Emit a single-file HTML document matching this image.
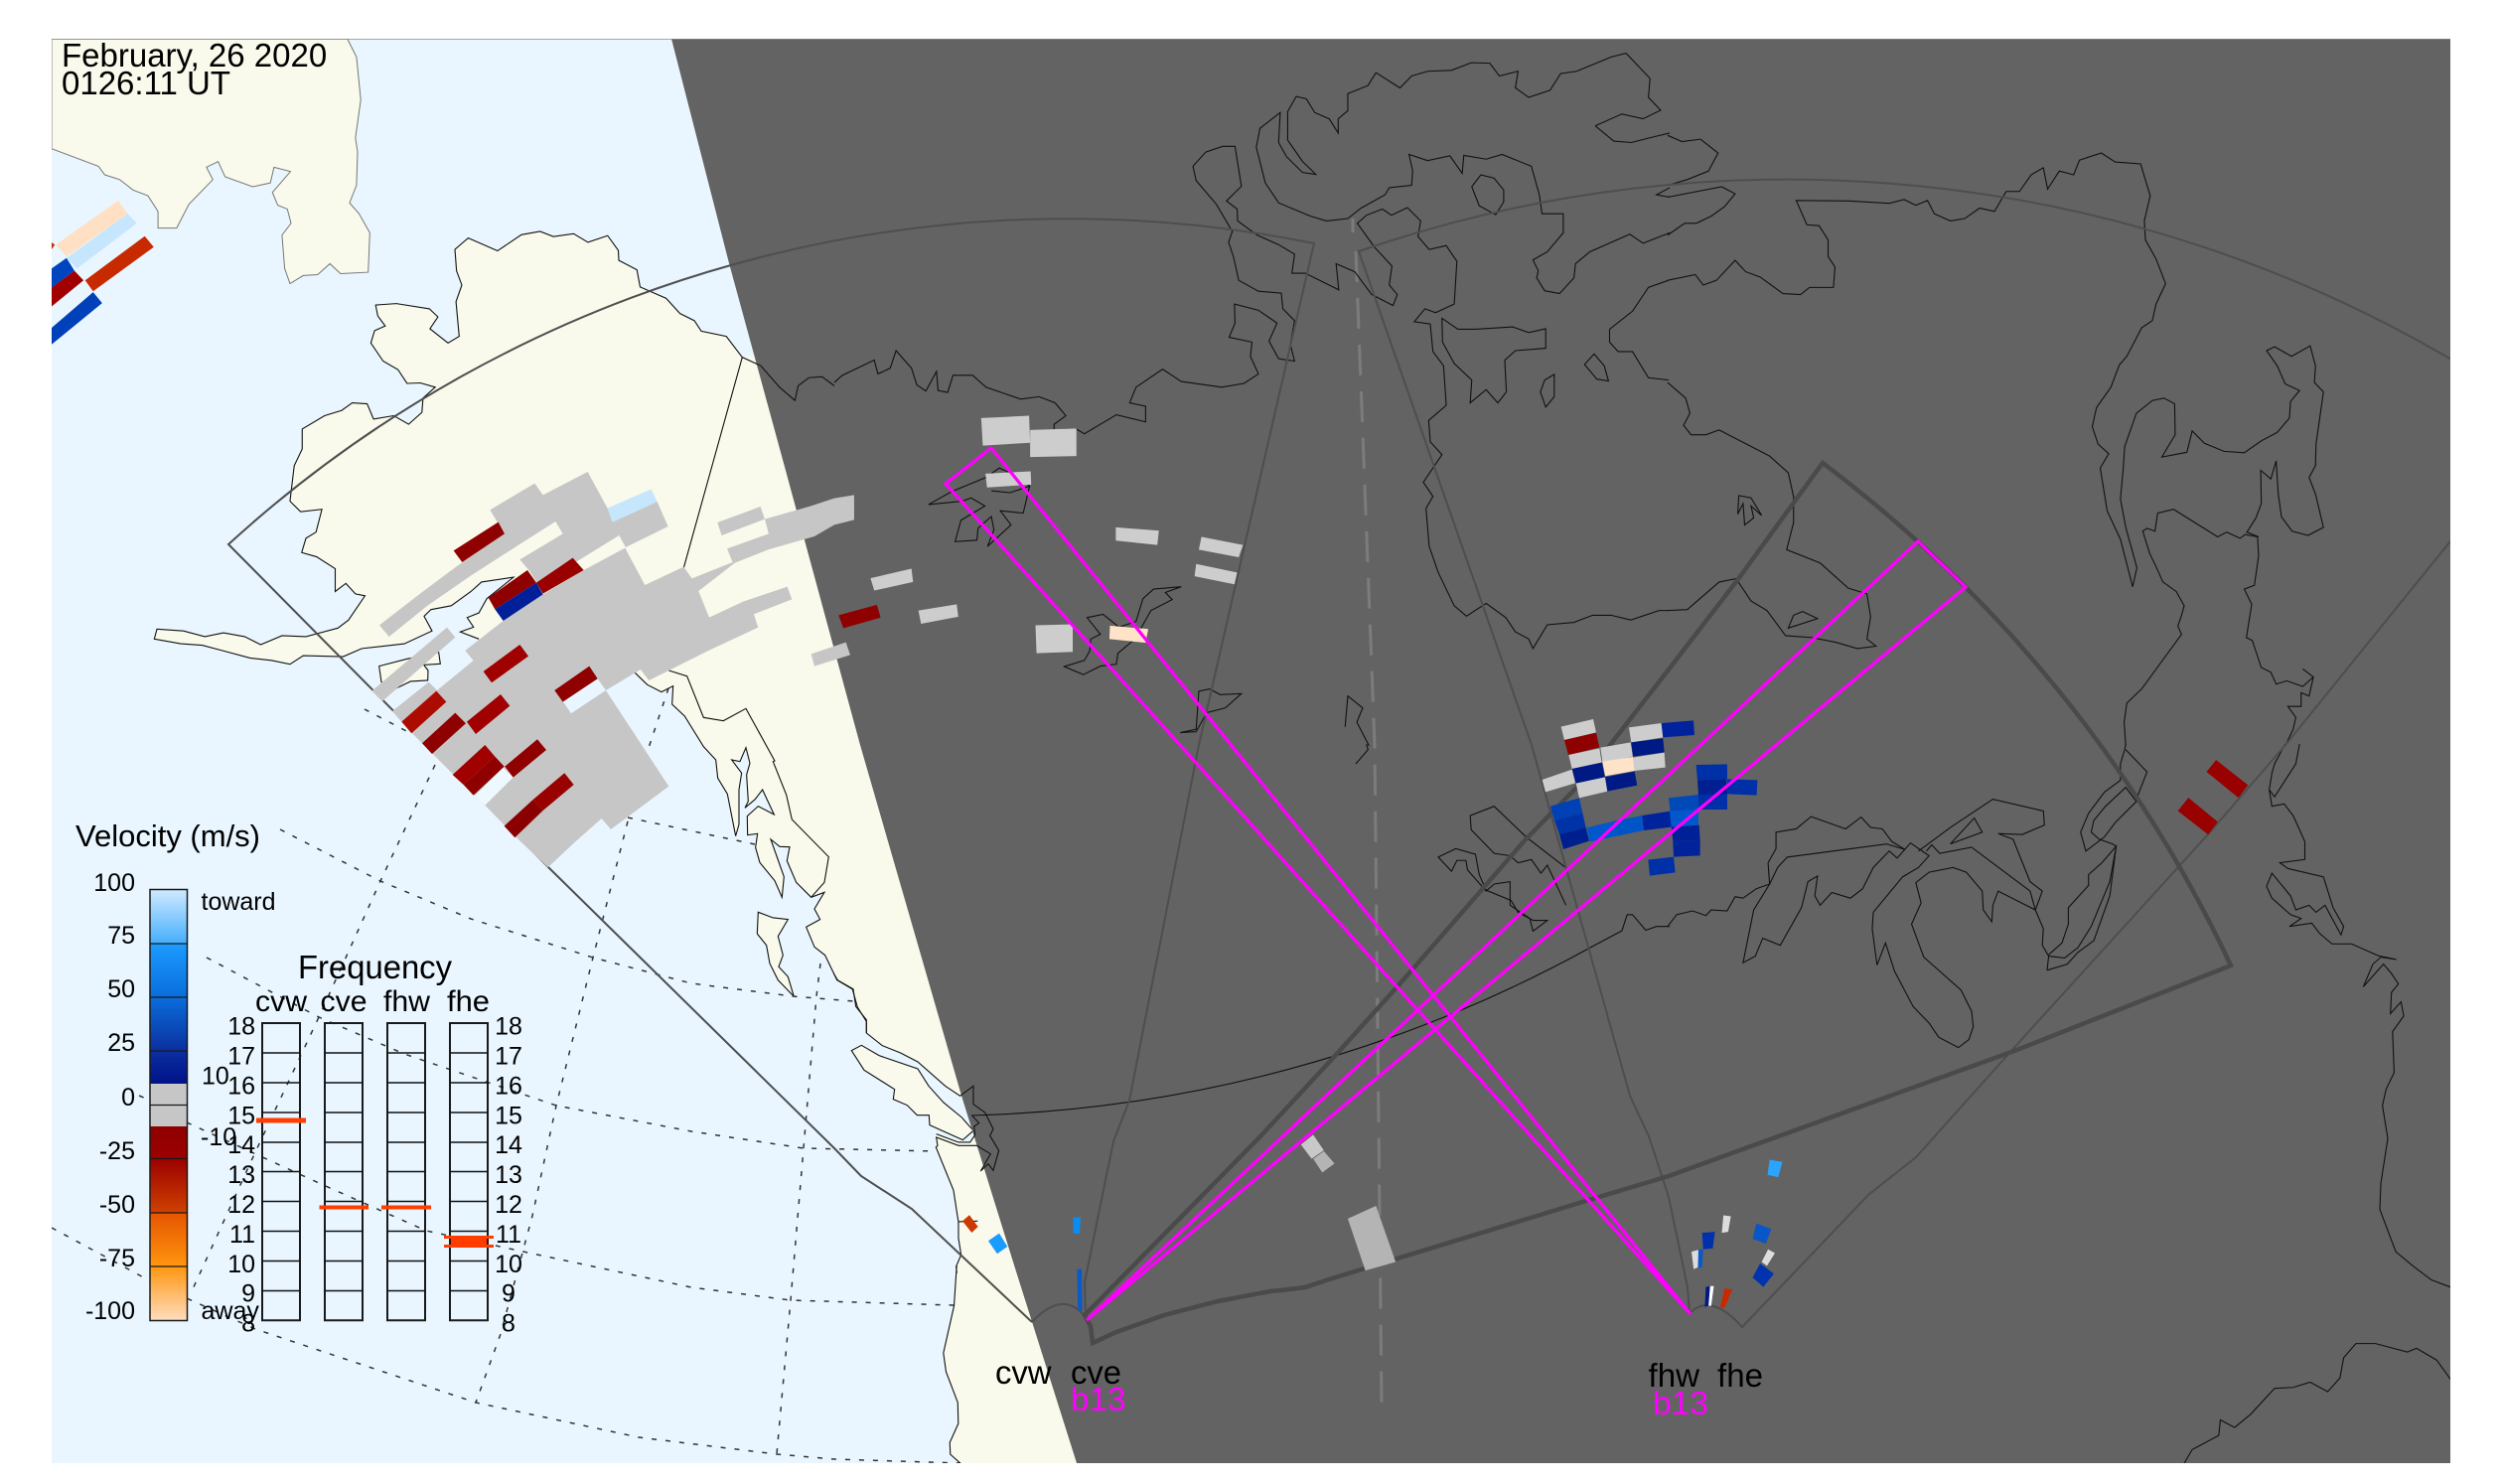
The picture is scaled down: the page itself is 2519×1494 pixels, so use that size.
<!DOCTYPE html>
<html><head><meta charset="utf-8"><title>SuperDARN velocity map</title>
<style>
html,body{margin:0;padding:0;background:#fff}
svg{display:block;font-family:"Liberation Sans",sans-serif}
svg *{vector-effect:non-scaling-stroke}
.c{fill:none;stroke:#111;stroke-width:1.1;stroke-linejoin:miter}
.l{fill:#f9faeb;stroke:none}
.ls{fill:#f9faeb;stroke:#111;stroke-width:1.1}
.g{fill:none;stroke:#333;stroke-width:1.5;stroke-dasharray:5 9}
.f{fill:none;stroke:#4e4e4e;stroke-width:2;stroke-linejoin:miter}
.n{fill:#c6c6c6}.m{fill:#cdcdcd}
.row{stroke:#111;stroke-width:1.5}
.box{fill:none;stroke:#1a1a1a;stroke-width:2}
</style></head>
<body>
<svg width="2519" height="1494" viewBox="0 0 2519 1494" xmlns="http://www.w3.org/2000/svg">
<defs>
<clipPath id="plot"><rect x="52" y="39" width="2415" height="1434"/></clipPath>
<linearGradient id="cb" x1="0" y1="0" x2="0" y2="1">
<stop offset="0" stop-color="#cfeaff"/><stop offset=".125" stop-color="#46aefc"/><stop offset=".126" stop-color="#1c9bff"/>
<stop offset=".25" stop-color="#0a6edc"/><stop offset=".375" stop-color="#0b2f9e"/><stop offset=".45" stop-color="#001288"/>
<stop offset=".45" stop-color="#c6c6c6"/><stop offset=".55" stop-color="#c6c6c6"/><stop offset=".55" stop-color="#8f0000"/>
<stop offset=".625" stop-color="#9c0000"/><stop offset=".75" stop-color="#cf4200"/><stop offset=".751" stop-color="#e65500"/>
<stop offset=".875" stop-color="#ff9610"/><stop offset="1" stop-color="#ffddbf"/>
</linearGradient>
</defs>
<rect width="2519" height="1494" fill="#fff"/>
<g clip-path="url(#plot)">
<rect x="52" y="39" width="2415" height="1434" fill="#e9f6ff"/>

<!-- land fills -->
<g transform="scale(.5357 .4783)">
<polygon points="97,313 185,350 197,368 225,378 250,400 278,412 297,445 297,480 332,480 355,430 400,378 388,352 410,340 423,372 475,393 508,385 515,352 546,361 512,405 522,432 540,440 547,470 530,495 535,565 545,597 570,580 597,578 620,555 640,576 692,573 695,490 675,450 657,427 670,390 672,320 668,290 678,210 670,120 653,82 97,82" fill="#f9faeb" stroke="#777" stroke-width="1"/>
<polygon class="l" points="1395,752 1365,708 1318,697 1305,675 1278,660 1252,628 1203,604 1197,568 1163,548 1162,527 1142,496 1105,510 1078,492 1040,498 1015,487 980,494 935,528 880,501 855,525 858,570 868,600 857,635 863,708 842,722 808,692 823,667 807,650 745,639 706,642 710,665 724,686 704,696 697,722 720,760 748,778 765,807 790,806 818,815 795,838 793,868 768,893 740,875 702,882 690,850 662,848 642,864 610,875 568,903 568,945 553,980 545,1055 565,1077 605,1072 594,1120 575,1133 567,1163 595,1172 630,1197 630,1245 650,1228 668,1250 686,1254 655,1305 635,1322 575,1340 530,1338 490,1357 460,1340 420,1332 385,1340 345,1328 295,1324 290,1345 340,1355 380,1358 420,1370 470,1385 510,1390 545,1398 570,1380 645,1382 680,1365 760,1355 812,1328 797,1297 810,1283 848,1275 885,1245 905,1225 965,1215 915,1260 900,1290 878,1300 890,1320 865,1330 900,1345 933,1352 1045,1394 1193,1415 1210,1432 1250,1455 1262,1445 1265,1480 1290,1510 1320,1568 1800,1568 1800,700"/>
</g>
<g transform="translate(620 640) scale(.3333)">
<polygon class="l" points="100,0 58,112 95,148 138,170 173,152 170,207 208,243 265,335 302,375 308,430 337,478 362,605 372,570 372,465 380,415 350,375 375,380 393,338 405,385 395,420 400,500 390,520 420,495 443,465 478,540 430,515 397,545 398,602 428,598 422,640 435,685 480,740 502,790 508,728 468,615 495,637 525,638 517,680 545,745 590,790 630,775 600,825 617,857 575,880 600,940 632,965 668,1040 715,1068 730,1122 757,1165 757,1200 1300,1200 1300,0"/>
<polygon class="ls" points="430,835 475,852 520,857 490,908 505,965 492,1000 520,1030 538,1090 490,1040 465,990 455,935 427,900"/>
</g>
<g transform="translate(780 980) scale(.3333)">
<polygon class="l" points="178,0 190,20 237,47 245,100 277,140 277,180 325,218 380,240 432,267 515,340 560,370 595,420 617,452 602,462 605,488 590,510 555,510 488,485 492,520 487,525 540,655 552,733 555,750 555,800 563,850 548,885 550,905 1000,905 1000,0"/>
<polygon class="ls" points="232,233 262,217 315,248 432,288 465,340 510,390 565,435 600,475 568,503 468,458 466,428 430,428 400,398 358,380 362,350 270,292"/>
</g>
<g transform="translate(840 750) scale(.5357 .4745)">
<polygon class="l" points="230,1105 225,1190 205,1290 210,1330 232,1395 233,1440 217,1480 218,1505 237,1524 800,1524 800,1105"/>
</g>

<!-- graticule -->
<polyline class="g" points="282,835 383,887 474,925 597,964 696,990 798,1003 860,1008"/>
<polyline class="g" points="208,964 321,1024 407,1061 560,1113 696,1139 809,1156 943,1159"/>
<polyline class="g" points="188,1130 321,1191 429,1239 536,1262 696,1296 796,1309 960,1314"/>
<polyline class="g" points="140,1103 147,1106"/>
<polyline class="g" points="52,1236 150,1289 179,1303 257,1338 479,1412 643,1447 782,1464 840,1469 967,1473"/>
<polyline class="g" points="438,770 383,887 321,1024 257,1160 193,1300"/>
<polyline class="g" points="673,693 653,753 633,823 597,964 560,1113 536,1224 504,1343 479,1412"/>
<polyline class="g" points="826,970 822,1003 809,1156 796,1309 782,1464"/>
<polyline class="g" points="367,714 413,738"/>
<polyline class="g" points="632,823 760,850"/>

<!-- night -->
<polygon fill="#636363" points="676,39 734,265 790,470 866,750 968,1103 1023,1280 1084,1473 2467,1473 2467,39"/>
<polyline fill="none" stroke="#7c7c7c" stroke-width="3" points="1362,220 1362,234"/>
<polyline fill="none" stroke="#7c7c7c" stroke-width="3" stroke-dasharray="31 16" points="1365,253 1384,750 1391,1414"/>

<!-- coast -->
<g transform="scale(.5357 .4783)">
<polyline class="c" points="1568,812 1545,793 1520,795 1500,812 1494,843 1465,815 1430,770 1395,752 1365,708 1318,697 1305,675 1278,660 1252,628 1203,604 1197,568 1163,548 1162,527 1142,496 1105,510 1078,492 1040,498 1015,487 980,494 935,528 880,501 855,525 858,570 868,600 857,635 863,708 842,722 808,692 823,667 807,650 745,639 706,642 710,665 724,686 704,696 697,722 720,760 748,778 765,807 790,806 818,815 795,838 793,868 768,893 740,875 702,882 690,850 662,848 642,864 610,875 568,903 568,945 553,980 545,1055 565,1077 605,1072 594,1120 575,1133 567,1163 595,1172 630,1197 630,1245 650,1228 668,1250 686,1254 655,1305 635,1322 575,1340 530,1338 490,1357 460,1340 420,1332 385,1340 345,1328 295,1324 290,1345 340,1355 380,1358 420,1370 470,1385 510,1390 545,1398 570,1380 645,1382 680,1365 760,1355 812,1328 797,1297 810,1283 848,1275 885,1245 905,1225 965,1215 915,1260 900,1290 878,1300 890,1320 865,1330 900,1345"/>
<polyline class="c" points="1395,752 1285,1195"/>
</g>
<g transform="translate(360 460) scale(.3333)">
<polygon class="ls" points="65,632 150,610 245,590 250,625 200,628 213,645 212,675 160,678 115,700 72,680"/>
</g>
<g transform="translate(620 640) scale(.3333)">
<polyline class="c" points="58,112 95,148 138,170 173,152 170,207 208,243 265,335 302,375 308,430 337,478 362,605 372,570 372,465 380,415 350,375 375,380 393,338 405,385 395,420 400,500 390,520 420,495 443,465 478,540 430,515 397,545 398,602 428,598 422,640 435,685 480,740 502,790 508,728 468,615 495,637 525,638 517,680 545,745 590,790 630,775 600,825 617,857 575,880 600,940 632,965 668,1040 715,1068 730,1122 757,1165 757,1200"/>
<polyline class="c" points="160,105 215,122 265,247 325,257 393,220 480,378 475,380 515,480 532,555 643,668 630,745 590,790"/>
</g>
<g transform="translate(780 980) scale(.3333)">
<polyline class="c" points="178,0 190,20 237,47 245,100 277,140 277,180 325,218 380,240 432,267 515,340 560,370 600,340 600,395 635,420 660,470 650,490 677,535 660,595 645,575 622,597 652,545 610,520 555,520 488,495 492,520 487,525 540,655 552,733 555,750 555,800 563,850 548,885 550,905"/>
<polyline class="c" points="595,428 617,452 602,462 605,488 590,510 555,510 488,485"/>
<polyline class="c" points="555,750 613,748"/>
</g>
<path class="c" d="M978,1123 A1366,1366 0 0 0 1601,954 L1633,937"/>
<g transform="translate(840 0) scale(.5357 .4783)">
<polyline class="c" points="0,805 15,790 75,758 82,787 105,775 116,738 145,775 155,810 172,823 192,782 195,822 213,826 223,790 260,790 285,815 350,840 385,835 415,848 435,875 413,893 413,905"/>
<polyline class="c" points="413,905 455,903 470,913 530,873 585,888 585,855 555,848 567,815 617,777 652,803 728,815 770,807 797,787 782,750 785,720 742,710 753,680 752,640 797,653 832,680 817,718 835,755 865,760 857,725 865,675 843,650 840,617 797,613 760,590 750,540 741,510 748,487 718,430 680,380 674,350 698,320 730,308 753,308 765,392 737,423 757,440 758,465 795,495 835,515 865,535 860,575 885,575 948,610 943,555 978,572 1010,620 1050,643 1058,620 1043,600 1048,560 1015,520 983,470 1000,453 1030,440 1047,453 1077,437 1102,465 1097,498 1118,525 1150,517 1170,550 1165,640 1130,658 1110,650 1090,677 1120,682 1125,740 1145,770 1150,853 1117,885 1120,930 1142,957 1107,1015 1125,1045 1112,1070 1118,1150 1135,1205 1165,1275 1188,1297 1225,1270 1262,1300 1280,1330 1305,1345 1313,1365 1340,1315 1390,1310 1425,1295 1460,1295 1497,1305 1550,1285 1570,1285"/>
<polyline class="c" points="1568,800 1530,795 1500,740 1473,740 1457,720 1457,693 1500,655 1530,605 1568,590"/>
<polyline class="c" points="1430,265 1480,240 1520,250 1553,232 1530,205 1533,165 1488,112 1460,120 1395,150 1365,155 1345,190 1305,205 1280,185 1285,150 1250,160 1232,133 1197,132 1160,148 1115,150 1085,160 1063,185 1035,165 1018,153 1003,180 965,197 965,233 947,250 947,280 930,250 903,237 887,208 868,203 852,235 852,295 880,340 905,367 880,363 850,330 835,300 838,237 800,270 793,310 810,385 835,427 895,455 925,465 965,460 990,438 1035,410 1043,395 1085,390 1087,360 1080,325 1115,338 1157,328 1180,365 1183,327 1225,335 1255,325 1310,350 1325,410 1330,450 1370,450 1370,490 1340,530 1313,547 1323,570 1320,585 1335,612 1363,618 1390,585 1393,555 1420,530 1495,493 1520,512 1570,490"/>
<polyline class="c" points="1430,265 1465,297 1498,300 1540,288 1570,280"/>
<polyline class="c" points="1570,395 1545,410 1570,415"/>
<polygon class="c" points="1198,393 1215,368 1240,375 1258,400 1258,425 1243,452 1212,433"/>
<polygon class="c" points="1142,670 1172,693 1205,693 1275,688 1305,700 1337,692 1337,733 1280,738 1260,758 1263,825 1247,848 1225,820 1195,848 1198,800 1165,765 1143,720"/>
<polygon class="c" points="1410,767 1428,745 1447,770 1455,802 1433,798"/>
<polygon class="c" points="1327,825 1335,800 1353,788 1353,835 1337,857"/>
<polygon class="c" points="177,1062 220,1035 285,1005 310,985 335,998 367,1023 355,1080 312,1075 332,1105 288,1150 300,1115 295,1087 270,1112 268,1137 227,1140 238,1095 283,1065 257,1048 240,1055"/>
<polyline class="c" points="295,1033 330,1037 368,1023"/>
<polygon class="c" points="432,1403 470,1390 480,1370 482,1345 500,1335 475,1300 505,1293 535,1320 567,1308 580,1260 600,1240 652,1235 622,1247 635,1262 595,1285 565,1345 533,1375 530,1398 500,1402 468,1420"/>
<polygon class="c" points="650,1542 680,1535 685,1455 705,1450 725,1462 765,1460 735,1490 700,1500 680,1540"/>
<polyline class="c" points="960,1530 965,1465 993,1490 982,1520 1005,1570"/>
</g>
<g transform="translate(1680 0) scale(.5351 .4783)">
<polyline class="c" points="-2,805 32,838 40,870 28,895 42,915 70,915 95,905 190,960 225,995 235,1045 235,1100 222,1157 285,1185 338,1238 373,1250 380,1298 373,1345 390,1360 355,1365 315,1352 270,1342 220,1338 185,1285 155,1265 127,1218 95,1225 35,1283 -2,1285"/>
<polyline class="c" points="-2,590 50,578 65,600 90,590 125,548 145,572 172,583 215,618 248,620 265,605 310,605 313,562 300,540 300,505 283,475 260,473 240,422 340,423 415,428 443,420 465,432 487,422 500,450 530,465 557,460 585,438 613,445 635,403 660,403 682,368 705,353 713,398 735,360 762,368 773,337 814,322 840,341 888,345 906,412 895,465 897,505 917,545 935,597 917,640 910,675 890,690 862,750 848,768 832,815 805,858 797,898 808,935 828,955 812,985 825,1075 850,1135 865,1200 873,1235 881,1195 860,1110 850,1050 855,990 858,940 880,870 910,843 932,838 952,850 953,915 928,962 975,952 985,907 1008,933 1045,950 1083,953 1115,928 1145,910 1168,880 1170,845 1187,822 1160,808 1145,770 1125,738 1140,730 1172,750 1207,728 1217,770 1215,805 1232,825 1218,935 1217,980 1205,1005 1217,1040 1232,1110 1203,1127 1173,1118 1153,1088 1147,1040 1143,970 1133,1008 1114,990 1115,1060 1105,1090 1088,1120 1110,1130"/>
<polyline class="c" points="-2,415 100,393 125,408 105,435 80,455 52,470 30,470 -2,495"/>
<polyline class="c" points="-2,285 25,298 60,293 93,322 75,360 35,378 -2,390"/>
<polygon class="c" points="130,1082 132,1043 155,1048 175,1085 155,1065 160,1090 143,1105 140,1060"/>
<polygon class="c" points="225,1322 235,1295 252,1287 280,1302"/>
<polyline class="c" points="860,1570 857,1520 862,1480 890,1450 965,1335 958,1318 965,1295 970,1275 955,1245 930,1225 918,1195 905,1165 892,1118 900,1112 915,1118 920,1080 950,1072 1033,1130 1050,1120 1075,1133 1085,1125 1108,1130 1110,1170 1102,1232 1083,1240 1097,1272 1087,1342 1098,1348 1115,1405 1133,1415 1143,1440 1163,1433 1193,1445 1213,1425 1193,1408"/>
<polyline class="c" points="1213,1425 1205,1465 1190,1458 1190,1487 1165,1487 1180,1510 1175,1535 1160,1570"/>
</g>
<g transform="translate(840 750) scale(.5357 .4745)">
<polyline class="c" points="1380,265 1300,195 1240,130 1195,150 1197,180 1240,230 1270,235 1285,250 1310,243 1328,272 1340,255 1375,340"/>
<polygon class="c" points="1135,238 1168,220 1205,232 1212,275 1225,308 1272,330 1285,355 1313,372 1340,372 1313,395 1307,368 1270,340 1270,290 1240,295 1225,310 1190,265 1187,245 1170,245 1160,268"/>
<polyline class="c" points="1480,395 1490,360 1500,360 1525,393 1545,385 1570,385"/>
<polyline class="c" points="980,40 1003,10 1000,-2"/>
<polyline class="c" points="230,1105 225,1190 205,1290 210,1330 232,1395 233,1440 217,1480 218,1505 237,1524"/>
</g>
<g transform="translate(1680 750) scale(.5351 .4745)">
<polyline class="c" points="-2,385 15,360 45,352 70,362 80,350 110,352 125,322 140,325 165,305 190,295 187,250 202,220 202,185 240,178 268,152 333,178 362,153 380,175 402,178 420,205 445,222"/>
<polyline class="c" points="190,295 205,260 223,238 410,210 445,222"/>
<polyline class="c" points="190,295 160,350 140,462 163,448 177,410 210,425 250,345 262,290 280,278 275,320 285,340 307,313 342,325 365,305 385,260 415,225 430,240 455,208 490,235 470,260 440,280 385,355 383,390 392,467 408,420 425,480 460,555 490,590 508,620 545,642 565,625 573,598 570,565 550,520 510,480 480,450 457,380 475,335 465,292 490,270 535,260 560,270 590,310 592,350 608,375 610,340 620,310 690,350 705,390 703,425 715,448 745,452 770,430 795,385 830,290 842,215 815,250 790,275 790,298 752,345 752,380 740,420 715,445"/>
<polyline class="c" points="470,225 530,175 610,115 705,140 707,170 665,190 620,188 648,200 680,290 703,310 690,350 680,310 570,217 510,230 495,212 485,225"/>
<polygon class="c" points="530,210 575,155 590,185"/>
<polyline class="c" points="712,478 715,448"/>
<polyline class="c" points="712,478 750,465 770,440 800,415 830,320 842,215 835,210 810,200 795,185 800,160 822,130 860,90 880,120 840,165 820,195 785,225 775,185 790,145 820,100 850,75 850,40 858,10 860,-2"/>
<polyline class="c" points="860,10 900,57 880,115"/>
<polyline class="c" points="1160,-2 1140,40 1135,60 1130,95 1135,130 1158,125 1175,150 1197,205 1197,243 1150,250 1165,262 1232,280 1250,345 1270,385 1265,403 1235,340 1218,355 1205,340 1180,350 1170,320 1135,272 1125,300 1135,325 1170,360 1190,368 1168,385 1210,378 1225,400 1248,422 1285,422 1335,447 1369,455 1340,450 1325,465 1307,513 1333,480 1345,465 1360,485 1373,507 1360,525 1358,570 1378,545 1383,575 1362,608 1365,695 1350,730 1343,765 1353,835 1340,930 1338,985 1368,1075 1400,1105 1435,1135 1475,1152"/>
<polyline class="c" points="1187,-2 1180,40 1140,110 1130,95"/>
<polyline class="c" points="970,1524 985,1495 1035,1465 1038,1432 1065,1448 1095,1420 1140,1365 1175,1363 1207,1352 1240,1372 1263,1343 1270,1300 1293,1270 1330,1270 1390,1288 1407,1280 1445,1305 1475,1352"/>
</g>

<!-- FOV outlines -->
<path class="f" d="M1039,1331 L918,1217 L867,1184 L840,1156 L552,873 L230,548 A1253,1253 0 0 1 1323,245 L1301,340 L1207,750 L1137,1108 L1121,1149 L1092,1291 L1093,1326 Q1070,1297.5 1039,1331"/>
<path class="f" d="M1701,1322 L1699,1296 L1680,1205 L1660,1144 L1641,1103 L1542,750 L1368,253 A1323,1323 0 0 1 2475,366"/>
<path class="f" d="M2475,535 L2301,750 L2223,840 L2033,1049 L1929,1165 L1881,1203 L1754,1336 Q1722.5,1301 1701,1322"/>
<path fill="none" stroke="#4a4a4a" stroke-width="4.5" stroke-linejoin="miter" d="M1092,1324 L1098,1335 L1100,1352 L1124,1341 L1172,1324 L1226,1310 L1279,1300 Q1300,1298 1314,1296 L1338,1288 L1590,1211 L1680,1184 L2028,1058 L2246,972 A1352,1352 0 0 0 1835,466 L1750,583 L1680,674 L1590,790 L1536,845 L1408,992 L1344,1063 L1269,1144 Z"/>

<!-- data: Alaska -->
<g transform="translate(360 460) scale(.3333)">
<polygon class="n" points="400,160 535,80 560,115 695,45 755,155 770,197 905,135 938,210 810,273 790,237 680,305 545,385 520,345 490,310 620,232 598,195 480,270 340,360 210,450 95,543 66,508 190,412 300,330 444,232"/>
<polygon fill="#c5e6fd" points="755,155 887,97 905,135 770,197"/>
<polygon class="n" points="43,707 270,515 295,545 75,738"/>
<polygon class="n" points="1087,198 1217,150 1230,188 1100,237"/>
<polygon class="n" points="325,585 440,495 560,415 683,342 808,275 868,387 985,332 1010,367 1133,318 1116,277 1242,232 1230,188 1370,148 1440,125 1500,115 1500,190 1440,205 1380,240 1240,280 1140,320 1030,405 1062,485 1165,437 1298,392 1312,430 1197,475 1210,515 1060,585 940,645 880,675 855,642 750,705 940,995 815,1088 765,1125 737,1092 655,1165 575,1240 478,1148 385,1052 355,1022 320,990 290,960 225,895 195,865 165,835 133,800 105,768 215,680 240,705 350,615"/>
<polygon fill="#e9f6ff" points="620,738 725,670 750,705 645,775"/>
<polygon fill="#eef8ff" points="355,1022 440,938 470,968 385,1052"/>
<polygon fill="#8f0000" points="395,425 513,342 540,380 415,460"/>
<polygon fill="#990000" points="540,380 650,305 683,342 560,413"/>
<polygon fill="#001f99" points="415,460 540,380 560,415 440,495"/>
<polygon fill="#8f0000" points="290,283 425,197 444,232 316,318"/>
<polygon fill="#a00000" points="380,648 490,567 516,602 405,682"/>
<polygon fill="#8f0000" points="595,705 700,632 725,670 620,740"/>
<polygon fill="#ac0b00" points="133,800 238,707 268,740 163,835"/>
<polygon fill="#8f0000" points="195,865 295,773 327,805 225,897"/>
<polygon fill="#a00000" points="330,800 432,717 460,752 357,837"/>
<polygon fill="#a00000" points="287,960 385,870 415,905 320,990"/>
<polygon fill="#8f0000" points="320,990 415,905 443,935 350,1022"/>
<polygon fill="#8f0000" points="445,935 543,853 570,885 470,968"/>
<polygon fill="#990000" points="530,1035 625,955 653,990 560,1068"/>
<polygon fill="#8a0000" points="443,1115 530,1035 560,1068 475,1150"/>
</g>
<g transform="translate(620 640) scale(.3333)">
<polygon class="n" points="590,55 695,20 708,58 600,92"/>
</g>
<!-- data: top-left corner -->
<g transform="scale(.5357 .4783)">
<polygon fill="#c82a00" points="97,510 103,515 97,525"/>
<polygon fill="#ffe0c4" points="105,515 222,422 240,450 125,540"/>
<polygon fill="#c5e6fd" points="125,543 240,450 257,470 145,565"/>
<polygon fill="#0045bd" points="97,565 125,543 140,570 97,605"/>
<polygon fill="#a00000" points="97,605 140,570 157,590 97,645"/>
<polygon fill="#c82a00" points="160,590 272,497 289,520 175,613"/>
<polygon fill="#0040b8" points="97,690 175,615 192,638 97,725"/>
</g>
<!-- data: Q3 -->
<g transform="translate(840 0) scale(.5357 .4783)">
<polygon class="m" points="276,880 366,875 368,932 279,938"/>
<polygon class="m" points="368,905 455,902 455,960 368,962"/>
<polygon class="m" points="284,997 369,992 370,1020 287,1026"/>
<polygon class="m" points="529,1110 610,1117 607,1147 529,1138"/>
<polygon class="m" points="690,1130 768,1147 760,1173 685,1157"/>
<polygon class="m" points="680,1187 757,1205 752,1230 677,1213"/>
<polygon class="m" points="68,1217 145,1197 148,1225 75,1243"/>
<polygon fill="#8f0000" points="8,1295 80,1273 87,1300 17,1322"/>
<polygon class="m" points="158,1285 230,1272 233,1298 163,1313"/>
<polygon class="m" points="378,1316 448,1314 448,1372 380,1375"/>
<polygon fill="#ffe3c8" points="518,1317 590,1324 585,1353 517,1345"/>
</g>
<!-- data: centre cluster -->
<g transform="translate(1530 700) scale(.3333)">
<polygon class="m" points="125,95 222,72 231,112 135,135"/>
<polygon fill="#8f0000" points="135,135 231,113 241,157 147,180"/>
<polygon class="m" points="148,180 241,160 248,203 158,222"/>
<polygon class="m" points="244,158 335,142 342,185 250,203"/>
<polygon class="m" points="330,97 428,84 433,127 337,142"/>
<polygon fill="#00229c" points="428,84 525,76 528,120 433,127"/>
<polygon fill="#001a85" points="337,142 433,130 437,172 342,185"/>
<polygon class="m" points="342,188 437,173 440,218 347,228"/>
<polygon fill="#001a85" points="158,222 248,203 258,247 170,266"/>
<polygon fill="#ffe3c8" points="250,200 342,186 347,228 258,244"/>
<polygon class="m" points="68,255 158,224 168,265 78,292"/>
<polygon class="m" points="170,266 258,247 265,290 180,310"/>
<polygon fill="#001a85" points="258,247 347,230 355,272 265,290"/>
<polygon fill="#0041b5" points="93,335 180,310 190,355 105,378"/>
<polygon fill="#0033a8" points="105,378 190,355 200,400 120,420"/>
<polygon fill="#001f8f" points="120,420 200,400 210,440 132,465"/>
<polygon fill="#0058cc" points="202,400 285,380 295,425 212,442"/>
<polygon fill="#0055c6" points="285,380 370,363 375,408 295,425"/>
<polygon fill="#00229c" points="370,363 455,350 458,398 375,408"/>
<polygon fill="#0049b8" points="450,310 540,300 540,345 455,350"/>
<polygon fill="#0058cc" points="453,350 540,345 540,392 458,398"/>
<polygon fill="#002098" points="458,398 542,392 545,440 463,440"/>
<polygon fill="#00239c" points="463,440 545,440 545,484 465,488"/>
<polygon fill="#0030a8" points="388,497 465,488 470,535 393,545"/>
<polygon fill="#0030a8" points="533,210 627,208 627,253 537,256"/>
<polygon fill="#001f90" points="537,256 625,253 627,300 540,300"/>
<polygon fill="#0030a8" points="540,300 627,298 627,345 540,345"/>
<polygon fill="#0030a8" points="627,253 718,256 716,302 627,298"/>
</g>
<!-- data: Q6 -->
<g transform="translate(1680 750) scale(.5351 .4745)">
<polygon fill="#ddd" points="43,1075 56,1071 56,1108 47,1112"/>
<polygon fill="#0a58c9" points="56,1070 65,1070 63,1108 55,1110"/>
<polygon fill="#0030ad" points="63,1035 87,1033 83,1068 65,1070"/>
<polygon fill="#ddd" points="103,998 117,1000 112,1033 100,1035"/>
<polygon fill="#0a55c8" points="165,1015 193,1027 183,1058 158,1048"/>
<polygon fill="#ddd" points="187,1070 200,1078 185,1105 175,1097"/>
<polygon fill="#0033ad" points="172,1100 198,1122 178,1150 158,1130"/>
<polygon fill="#2aa5ff" points="190,880 214,885 206,917 186,912"/>
<polygon fill="#001a85" points="70,1150 78,1148 75,1190 68,1192"/>
<polygon fill="#fff" points="78,1148 85,1148 80,1190 75,1190"/>
<polygon fill="#c82a00" points="105,1153 120,1155 105,1195 97,1193"/>
<polygon fill="#990000" points="1012,57 1030,32 1090,85 1072,112"/>
<polygon fill="#990000" points="958,140 978,112 1033,163 1015,190"/>
</g>
<!-- data: Q5 -->
<g transform="translate(840 750) scale(.5357 .4745)">
<polygon fill="#c8c8c8" points="877,848 900,827 920,860 897,878"/>
<polygon fill="#b4b4b4" points="900,878 920,862 940,888 917,907"/>
<polygon fill="#b4b4b4" points="965,1005 1018,978 1055,1097 998,1115"/>
<polygon fill="#0a8cf0" points="449,1002 463,1002 461,1037 449,1037"/>
<polygon fill="#0a5ac8" points="456,1112 465,1112 466,1200 458,1200"/>
</g>
<g transform="translate(780 980) scale(.3333)">
<polygon fill="#cc3a00" points="567,748 588,730 614,765 595,783"/>
<polygon fill="#1a9cff" points="645,808 678,785 703,825 672,847"/>
</g>

<!-- beams -->
<polygon fill="none" stroke="#ff00ff" stroke-width="3.2" stroke-linejoin="miter" points="1094,1329 1931,545 1979,591"/>
<polygon fill="none" stroke="#ff00ff" stroke-width="3.2" stroke-linejoin="miter" points="1702,1323 998,451 952,487"/>
<rect x="52" y="39" width="2415" height=".7" fill="#888"/>
</g>

<!-- date -->
<text x="62" y="67" font-size="33">February, 26 2020</text>
<text x="62" y="95" font-size="33">0126:11 UT</text>

<!-- colour bar -->
<text x="76" y="852" font-size="31" textLength="186" lengthAdjust="spacingAndGlyphs">Velocity (m/s)</text>
<rect x="151" y="895.5" width="37.5" height="434" fill="url(#cb)" stroke="#1a1a1a" stroke-width="1.5"/>
<g stroke="#1a1a1a" stroke-width="1.3">
<line x1="151" x2="188.5" y1="950" y2="950"/><line x1="151" x2="188.5" y1="1004" y2="1004"/><line x1="151" x2="188.5" y1="1058" y2="1058"/><line x1="151" x2="188.5" y1="1112.5" y2="1112.5"/><line x1="151" x2="188.5" y1="1166.5" y2="1166.5"/><line x1="151" x2="188.5" y1="1221" y2="1221"/><line x1="151" x2="188.5" y1="1275" y2="1275"/>
</g>
<g font-size="25" text-anchor="end">
<text x="136" y="897">100</text><text x="136" y="950">75</text><text x="136" y="1004">50</text><text x="136" y="1058">25</text><text x="136" y="1113">0</text><text x="136" y="1167">-25</text><text x="136" y="1221">-50</text><text x="136" y="1275">-75</text><text x="136" y="1328">-100</text>
</g>
<text x="202.5" y="916" font-size="25">toward</text>
<text x="202.5" y="1328" font-size="25">away</text>

<!-- frequency -->
<text x="300" y="985" font-size="33" textLength="155" lengthAdjust="spacingAndGlyphs">Frequency</text>
<g font-size="30">
<text x="257" y="1018" textLength="52" lengthAdjust="spacingAndGlyphs">cvw</text>
<text x="322.5" y="1018" textLength="47" lengthAdjust="spacingAndGlyphs">cve</text>
<text x="386" y="1018" textLength="47" lengthAdjust="spacingAndGlyphs">fhw</text>
<text x="450" y="1018" textLength="43" lengthAdjust="spacingAndGlyphs">fhe</text>
</g>
<g>
<rect class="box" x="264" y="1030" width="38" height="299.3"/><rect class="box" x="327" y="1030" width="38" height="299.3"/><rect class="box" x="390" y="1030" width="38" height="299.3"/><rect class="box" x="453" y="1030" width="38" height="299.3"/>
<path class="row" fill="none" d="M264 1060H302M264 1090H302M264 1120H302M264 1150H302M264 1179.5H302M264 1209.5H302M264 1239.5H302M264 1269.5H302M264 1299.5H302M327 1060H365M327 1090H365M327 1120H365M327 1150H365M327 1179.5H365M327 1209.5H365M327 1239.5H365M327 1269.5H365M327 1299.5H365M390 1060H428M390 1090H428M390 1120H428M390 1150H428M390 1179.5H428M390 1209.5H428M390 1239.5H428M390 1269.5H428M390 1299.5H428M453 1060H491M453 1090H491M453 1120H491M453 1150H491M453 1179.5H491M453 1209.5H491M453 1239.5H491M453 1269.5H491M453 1299.5H491"/>
</g>
<g font-size="25" text-anchor="end">
<text x="257" y="1041.5">18</text><text x="257" y="1071.5">17</text><text x="257" y="1101.5">16</text><text x="257" y="1131.5">15</text><text x="257" y="1161">14</text><text x="257" y="1191">13</text><text x="257" y="1221">12</text><text x="257" y="1251">11</text><text x="257" y="1281">10</text><text x="257" y="1310.5">9</text><text x="257" y="1340.5">8</text>
</g>
<g font-size="25" text-anchor="middle">
<text x="512" y="1041.5">18</text><text x="512" y="1071.5">17</text><text x="512" y="1101.5">16</text><text x="512" y="1131.5">15</text><text x="512" y="1161">14</text><text x="512" y="1191">13</text><text x="512" y="1221">12</text><text x="512" y="1251">11</text><text x="512" y="1281">10</text><text x="512" y="1310.5">9</text><text x="512" y="1340.5">8</text>
</g>
<text x="203" y="1091.5" font-size="25">10</text>
<text x="202" y="1153" font-size="25">-10</text>
<g fill="#ff3d00">
<rect x="258" y="1125.5" width="50" height="5"/>
<rect x="321.5" y="1213.5" width="49.5" height="4"/>
<rect x="384" y="1213.5" width="50" height="4"/>
<rect x="447" y="1244" width="50" height="3"/>
<rect x="447" y="1253" width="50" height="3"/>
<rect x="454" y="1245" width="36" height="10"/>
</g>

<!-- station labels -->
<g font-size="33">
<text x="1002" y="1393" textLength="56.5" lengthAdjust="spacingAndGlyphs">cvw</text>
<text x="1078" y="1393" textLength="51" lengthAdjust="spacingAndGlyphs">cve</text>
<text x="1078" y="1420" fill="#ff00ff" textLength="55.5" lengthAdjust="spacingAndGlyphs">b13</text>
<text x="1659.5" y="1396" textLength="51.5" lengthAdjust="spacingAndGlyphs">fhw</text>
<text x="1729" y="1396" textLength="46" lengthAdjust="spacingAndGlyphs">fhe</text>
<text x="1664" y="1424" fill="#ff00ff" textLength="56" lengthAdjust="spacingAndGlyphs">b13</text>
</g>
</svg>
</body></html>
